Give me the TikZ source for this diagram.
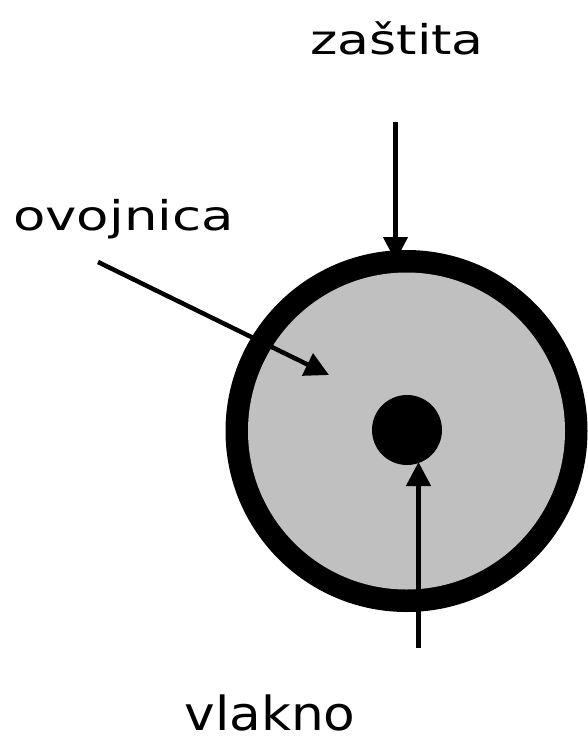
\documentclass[tikz,border=0pt]{standalone}
\usepackage{fontspec}
\usepackage{graphicx}
\setmainfont{DejaVu Sans}
\usetikzlibrary{arrows.meta}
\definecolor{cladgray}{HTML}{C0C0C0}
\begin{document}
\begin{tikzpicture}[x=1pt,y=-1pt,
  lbl/.style={anchor=base,inner sep=0pt,font=\fontsize{41}{48}\selectfont},
  disc/.style={circle,inner sep=0pt,outer sep=0pt,draw=none},
  arr/.style={line width=4.5pt,-{Triangle[length=24pt,width=24pt]}}]
\useasboundingbox (0,0) rectangle (587,739);
\node[disc,fill=black,minimum size=362pt] (shield) at (406.5,431) {};
\node[disc,fill=cladgray,minimum size=317pt] (clad) at (406.5,431) {};
\node[disc,fill=black,minimum size=70pt] (core) at (407,430) {};
\node[lbl] (zastita) at (397,54) {\scalebox{1.27}[1]{zaštita}};
\node[lbl] (ovojnica) at (123.5,230) {\scalebox{1.29}[1]{ovojnica}};
\node[lbl,font=\fontsize{47}{56}\selectfont] (vlakno) at (270,730) {\scalebox{1.1}[1]{vlakno}};
\coordinate (zs) at (395.5,122);
\coordinate (zt) at (395.5,261);
\coordinate (os) at (98,262);
\coordinate (ot) at (329,375);
\coordinate (vs) at (418.5,648);
\coordinate (vt) at (418.5,462);
\draw[arr] (zs) -- (zt);
\draw[arr] (os) -- (ot);
\draw[arr] (vs) -- (vt);
\end{tikzpicture}
\end{document}
